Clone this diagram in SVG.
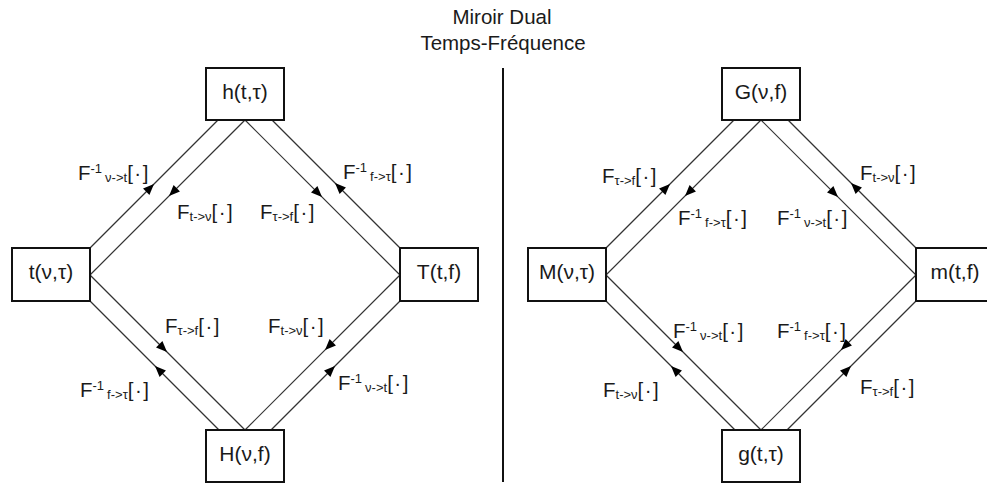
<svg xmlns="http://www.w3.org/2000/svg" xmlns:xlink="http://www.w3.org/1999/xlink" width="987" height="485" viewBox="0 0 987 485">
  <style>
    .box { fill: #fff; stroke: #111; stroke-width: 2; }
    .nt { font-family: "Liberation Sans", Arial, sans-serif; font-size: 21px; fill: #1a1a1a; text-anchor: middle; }
    .ttl { font-family: "Liberation Sans", Arial, sans-serif; font-size: 20.5px; fill: #1a1a1a; text-anchor: middle; }
    .lb { font-family: "Liberation Sans", Arial, sans-serif; font-size: 20.5px; fill: #1a1a1a; }
    .s { font-size: 13px; }
    .br { letter-spacing: 1.5px; }
    .ln { stroke: #333; stroke-width: 1.2; fill: none; }
    .div { stroke: #111; stroke-width: 2; }
    .ah { fill: #000; }
  </style>
  <defs>
    <!-- arrowhead with its tip at the origin, pointing along +x -->
    <path id="ah" d="M0,0 L-11,-4.5 L-11,4.5 Z"/>
  </defs>

  <!-- title -->
  <text class="ttl" x="502" y="24">Miroir Dual</text>
  <text class="ttl" x="503" y="50">Temps-Fréquence</text>

  <!-- separator between the two squares -->
  <line class="div" x1="503" y1="68" x2="503" y2="482"/>

  <!-- connectors -->
  <g id="connectors">
    <!-- left square -->
    <line class="ln" x1="218" y1="120" x2="90" y2="248"/>
    <line class="ln" x1="245" y1="120" x2="90" y2="275"/>
    <line class="ln" x1="245" y1="120" x2="400" y2="275"/>
    <line class="ln" x1="272" y1="120" x2="400" y2="248"/>
    <line class="ln" x1="90" y1="275" x2="245" y2="430"/>
    <line class="ln" x1="90" y1="301" x2="219" y2="430"/>
    <line class="ln" x1="400" y1="275" x2="245" y2="430"/>
    <line class="ln" x1="400" y1="301" x2="271" y2="430"/>
    <use class="ah" xlink:href="#ah" transform="translate(154,184) rotate(-45)"/>
    <use class="ah" xlink:href="#ah" transform="translate(169,196) rotate(135)"/>
    <use class="ah" xlink:href="#ah" transform="translate(322,197) rotate(45)"/>
    <use class="ah" xlink:href="#ah" transform="translate(335,183) rotate(-135)"/>
    <use class="ah" xlink:href="#ah" transform="translate(167,352) rotate(45)"/>
    <use class="ah" xlink:href="#ah" transform="translate(155,366) rotate(-135)"/>
    <use class="ah" xlink:href="#ah" transform="translate(325,350) rotate(135)"/>
    <use class="ah" xlink:href="#ah" transform="translate(335,366) rotate(-45)"/>

    <!-- right square -->
    <line class="ln" x1="734" y1="120" x2="606" y2="248"/>
    <line class="ln" x1="761" y1="120" x2="606" y2="275"/>
    <line class="ln" x1="761" y1="120" x2="916" y2="275"/>
    <line class="ln" x1="788" y1="120" x2="916" y2="248"/>
    <line class="ln" x1="606" y1="275" x2="761" y2="430"/>
    <line class="ln" x1="606" y1="301" x2="735" y2="430"/>
    <line class="ln" x1="916" y1="275" x2="761" y2="430"/>
    <line class="ln" x1="916" y1="301" x2="787" y2="430"/>
    <use class="ah" xlink:href="#ah" transform="translate(670,184) rotate(-45)"/>
    <use class="ah" xlink:href="#ah" transform="translate(685,196) rotate(135)"/>
    <use class="ah" xlink:href="#ah" transform="translate(838,197) rotate(45)"/>
    <use class="ah" xlink:href="#ah" transform="translate(851,183) rotate(-135)"/>
    <use class="ah" xlink:href="#ah" transform="translate(683,352) rotate(45)"/>
    <use class="ah" xlink:href="#ah" transform="translate(671,366) rotate(-135)"/>
    <use class="ah" xlink:href="#ah" transform="translate(841,350) rotate(135)"/>
    <use class="ah" xlink:href="#ah" transform="translate(851,366) rotate(-45)"/>
  </g>

  <!-- transform labels, left square -->
  <g id="labels-left">
    <text class="lb" x="78" y="180">F<tspan class="s" dy="-7">-1</tspan><tspan class="s" dx="3" dy="9">ν-&gt;t</tspan><tspan class="br" dy="-2">[·]</tspan></text>
    <text class="lb" x="177" y="219">F<tspan class="s" dy="2">t-&gt;ν</tspan><tspan class="br" dy="-2">[·]</tspan></text>
    <text class="lb" x="260" y="219">F<tspan class="s" dy="2">τ-&gt;f</tspan><tspan class="br" dy="-2">[·]</tspan></text>
    <text class="lb" x="343" y="179">F<tspan class="s" dy="-7">-1</tspan><tspan class="s" dx="3" dy="9">f-&gt;τ</tspan><tspan class="br" dy="-2">[·]</tspan></text>
    <text class="lb" x="165" y="333">F<tspan class="s" dy="2">τ-&gt;f</tspan><tspan class="br" dy="-2">[·]</tspan></text>
    <text class="lb" x="268" y="333">F<tspan class="s" dy="2">t-&gt;ν</tspan><tspan class="br" dy="-2">[·]</tspan></text>
    <text class="lb" x="80" y="397">F<tspan class="s" dy="-7">-1</tspan><tspan class="s" dx="3" dy="9">f-&gt;τ</tspan><tspan class="br" dy="-2">[·]</tspan></text>
    <text class="lb" x="338" y="390">F<tspan class="s" dy="-7">-1</tspan><tspan class="s" dx="3" dy="9">ν-&gt;t</tspan><tspan class="br" dy="-2">[·]</tspan></text>
  </g>

  <!-- transform labels, right square -->
  <g id="labels-right">
    <text class="lb" x="602" y="183">F<tspan class="s" dy="2">τ-&gt;f</tspan><tspan class="br" dy="-2">[·]</tspan></text>
    <text class="lb" x="678" y="225">F<tspan class="s" dy="-7">-1</tspan><tspan class="s" dx="3" dy="9">f-&gt;τ</tspan><tspan class="br" dy="-2">[·]</tspan></text>
    <text class="lb" x="777" y="225">F<tspan class="s" dy="-7">-1</tspan><tspan class="s" dx="3" dy="9">ν-&gt;t</tspan><tspan class="br" dy="-2">[·]</tspan></text>
    <text class="lb" x="860" y="180">F<tspan class="s" dy="2">t-&gt;ν</tspan><tspan class="br" dy="-2">[·]</tspan></text>
    <text class="lb" x="673" y="338">F<tspan class="s" dy="-7">-1</tspan><tspan class="s" dx="3" dy="9">ν-&gt;t</tspan><tspan class="br" dy="-2">[·]</tspan></text>
    <text class="lb" x="777" y="338">F<tspan class="s" dy="-7">-1</tspan><tspan class="s" dx="3" dy="9">f-&gt;τ</tspan><tspan class="br" dy="-2">[·]</tspan></text>
    <text class="lb" x="603" y="397">F<tspan class="s" dy="2">t-&gt;ν</tspan><tspan class="br" dy="-2">[·]</tspan></text>
    <text class="lb" x="860" y="394">F<tspan class="s" dy="2">τ-&gt;f</tspan><tspan class="br" dy="-2">[·]</tspan></text>
  </g>

  <!-- nodes, left square -->
  <g id="node-h"><rect class="box" x="206" y="68" width="78" height="52"/><text class="nt" x="245" y="99">h(t,τ)</text></g>
  <g id="node-t"><rect class="box" x="12" y="248" width="78" height="53"/><text class="nt" x="51" y="279">t(ν,τ)</text></g>
  <g id="node-T"><rect class="box" x="400" y="248" width="78" height="53"/><text class="nt" x="439" y="279">T(t,f)</text></g>
  <g id="node-H"><rect class="box" x="206" y="430" width="78" height="52"/><text class="nt" x="245" y="461">H(ν,f)</text></g>

  <!-- nodes, right square -->
  <g id="node-G"><rect class="box" x="722" y="68" width="78" height="52"/><text class="nt" x="761" y="99">G(ν,f)</text></g>
  <g id="node-M"><rect class="box" x="528" y="248" width="78" height="53"/><text class="nt" x="567" y="279">M(ν,τ)</text></g>
  <g id="node-m"><rect class="box" x="916" y="248" width="78" height="53"/><text class="nt" x="955" y="279">m(t,f)</text></g>
  <g id="node-g"><rect class="box" x="722" y="430" width="78" height="52"/><text class="nt" x="761" y="461">g(t,τ)</text></g>
</svg>
